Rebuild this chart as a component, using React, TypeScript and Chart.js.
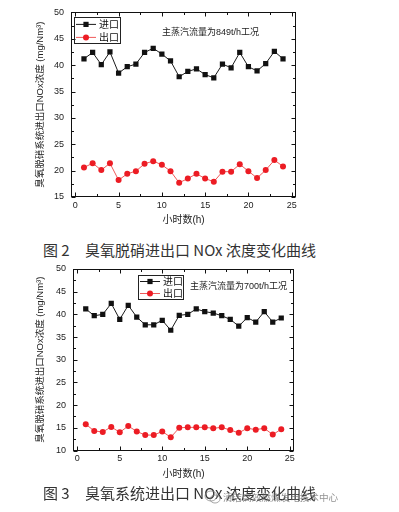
import React, { useEffect, useRef } from "react";
import { Chart, registerables } from "chart.js";

Chart.register(...registerables);

// ---------- data ----------
const hours = [1, 2, 3, 4, 5, 6, 7, 8, 9, 10, 11, 12, 13, 14, 15, 16, 17, 18, 19, 20, 21, 22, 23, 24];
const inlet849 = [41.2, 42.4, 40.1, 42.5, 38.5, 39.7, 40.2, 42.4, 43.2, 42.1, 40.8, 37.8, 38.8, 39.3, 38.2, 37.6, 40.2, 39.5, 42.4, 39.7, 38.9, 40.3, 42.6, 41.2];
const outlet849 = [20.6, 21.4, 20.1, 21.4, 18.2, 19.4, 19.9, 21.3, 21.8, 21.1, 19.9, 17.7, 18.5, 19.4, 18.5, 17.9, 19.8, 19.8, 21.2, 19.9, 18.6, 20.1, 22.0, 20.8];
const inlet700 = [41.2, 39.7, 40.0, 42.4, 38.9, 42.0, 39.4, 37.7, 37.7, 38.7, 36.5, 39.8, 40.0, 41.2, 40.6, 40.3, 39.7, 38.9, 37.4, 39.3, 38.3, 40.6, 38.3, 39.2];
const outlet700 = [15.8, 14.3, 14.1, 15.2, 14.0, 15.4, 14.2, 13.4, 13.4, 14.2, 12.9, 15.0, 15.1, 15.1, 15.1, 14.9, 15.1, 14.5, 13.9, 14.9, 14.6, 14.9, 13.5, 14.7];
const xTickValues = [0, 5, 10, 15, 20, 25];
const seriesLabels = ["进口", "出口"];
const yTitle = "臭氧脱硝系统进出口NOx浓度 (mg/Nm³)";
const xTitle = "小时数(h)";
const note849 = "主蒸汽流量为849t/h工况";
const note700 = "主蒸汽流量为700t/h工况";
const caption2Num = "图 2";
const caption2Text = "臭氧脱硝进出口 NOx 浓度变化曲线";
const caption3Num = "图 3";
const caption3Text = "臭氧系统进出口 NOx 浓度变化曲线";
const watermark = "清洁高效燃煤发电技术中心";

const FONT = "'Liberation Sans', 'Noto Sans CJK SC', sans-serif";
const CJK = "'Noto Sans CJK SC', sans-serif";

function drawMarker(ctx: CanvasRenderingContext2D, style: string, x: number, y: number, color: string) {
  ctx.fillStyle = color;
  if (style === "rect") {
    ctx.fillRect(x - 2.6, y - 2.6, 5.2, 5.2);
  } else {
    ctx.beginPath();
    ctx.arc(x, y, 3, 0, Math.PI * 2);
    ctx.fill();
  }
}

const framePlugin = {
  id: "frameTicks",
  beforeDatasetsDraw(chart: any) {
    const { ctx, chartArea: ca, scales } = chart;
    const xs = scales.x;
    const ys = scales.y;
    ctx.save();
    ctx.strokeStyle = "#111";
    ctx.lineWidth = 1;
    const L = Math.round(ca.left) + 0.5;
    const R = Math.round(ca.right) - 0.5;
    const T = Math.round(ca.top) + 0.5;
    const B = Math.round(ca.bottom) - 0.5;
    ctx.strokeRect(L, T, R - L, B - T);
    ctx.beginPath();
    // x ticks (major + minor), bottom and top, inward
    for (let v = 0; v <= 25; v += 2.5) {
      const px = Math.round(xs.getPixelForValue(v)) + 0.5;
      const len = v % 5 === 0 ? 4 : 2.5;
      ctx.moveTo(px, B);
      ctx.lineTo(px, B - len);
      ctx.moveTo(px, T);
      ctx.lineTo(px, T + len);
    }
    for (let v = ys.min; v <= ys.max; v += 2.5) {
      const py = Math.round(ys.getPixelForValue(v)) + 0.5;
      const len = v % 5 === 0 ? 4 : 2.5;
      ctx.moveTo(L, py);
      ctx.lineTo(L + len, py);
      ctx.moveTo(R, py);
      ctx.lineTo(R - len, py);
    }
    ctx.stroke();
    ctx.restore();
  },
  afterDraw(chart: any, _args: any, opts: any) {
    const { ctx, chartArea: ca } = chart;
    ctx.save();
    // legend box
    const bx = ca.left + opts.legend.dx;
    const by = ca.top + opts.legend.dy;
    const bw = opts.legend.w;
    const bh = opts.legend.h;
    ctx.strokeStyle = "#222";
    ctx.lineWidth = 1;
    ctx.strokeRect(Math.round(bx) + 0.5, Math.round(by) + 0.5, bw, bh);
    chart.data.datasets.forEach((ds: any, i: number) => {
      const ry = by + (i + 0.5) * (bh / 2) + 0.5;
      ctx.strokeStyle = ds.borderColor;
      ctx.lineWidth = 1;
      ctx.beginPath();
      ctx.moveTo(bx + 2, ry);
      ctx.lineTo(bx + 22, ry);
      ctx.stroke();
      drawMarker(ctx, ds.pointStyle, bx + 12, ry, ds.pointBackgroundColor);
      ctx.fillStyle = "#111";
      ctx.font = `10px ${CJK}`;
      ctx.textBaseline = "middle";
      ctx.textAlign = "left";
      ctx.fillText(ds.label, bx + 25, ry);
    });
    // note
    ctx.fillStyle = "#222";
    ctx.font = `9px ${FONT}`;
    ctx.textBaseline = "middle";
    ctx.textAlign = "left";
    ctx.fillText(opts.note.text, ca.left + opts.note.dx, ca.top + opts.note.dy);
    ctx.restore();
  },
};

type PanelProps = {
  top: number;
  width: number;
  height: number;
  padTop: number;
  padRight: number;
  yAxisWidth: number;
  xAxisHeight: number;
  yMin: number;
  yMax: number;
  inlet: number[];
  outlet: number[];
  note: string;
  noteDx: number;
  noteDy: number;
  legend: { dx: number; dy: number; w: number; h: number };
};

function ChartPanel(p: PanelProps) {
  const ref = useRef<HTMLCanvasElement>(null);
  useEffect(() => {
    const chart = new Chart(ref.current!, {
      type: "line",
      data: {
        datasets: [
          {
            label: seriesLabels[0],
            data: hours.map((h, i) => ({ x: h, y: p.inlet[i] })),
            borderColor: "#1a1a1a",
            borderWidth: 1,
            pointStyle: "rect",
            pointRadius: 3.7,
            pointBackgroundColor: "#111",
            pointBorderWidth: 0,
            pointBorderColor: "#111",
          } as any,
          {
            label: seriesLabels[1],
            data: hours.map((h, i) => ({ x: h, y: p.outlet[i] })),
            borderColor: "#f05a5a",
            borderWidth: 1,
            pointStyle: "circle",
            pointRadius: 3,
            pointBackgroundColor: "#ec1c24",
            pointBorderWidth: 0,
            pointBorderColor: "#ec1c24",
          } as any,
        ],
      },
      options: {
        responsive: false,
        animation: false,
        devicePixelRatio: 1,
        events: [],
        layout: { padding: { top: p.padTop, right: p.padRight, left: 0, bottom: 0 } },
        plugins: {
          legend: { display: false },
          tooltip: { enabled: false },
          frameTicks: {
            legend: p.legend,
            note: { text: p.note, dx: p.noteDx, dy: p.noteDy },
          },
        } as any,
        scales: {
          x: {
            type: "linear",
            min: -0.5,
            max: 25.5,
            afterBuildTicks: (s: any) => {
              s.ticks = xTickValues.map((v) => ({ value: v }));
            },
            afterFit: (s: any) => {
              s.height = p.xAxisHeight;
            },
            grid: { display: false, drawTicks: false },
            border: { display: false },
            ticks: {
              font: { size: 9, family: FONT },
              color: "#222",
              padding: 3,
              maxRotation: 0,
              autoSkip: false,
            },
            title: {
              display: true,
              text: xTitle,
              font: { size: 10, family: FONT },
              color: "#222",
              padding: { top: 0, bottom: 6 },
            },
          },
          y: {
            type: "linear",
            min: p.yMin,
            max: p.yMax,
            afterFit: (s: any) => {
              s.width = p.yAxisWidth;
            },
            grid: { display: false, drawTicks: false },
            border: { display: false },
            ticks: {
              stepSize: 5,
              font: { size: 9, family: FONT },
              color: "#222",
              padding: 7,
            },
            title: {
              display: true,
              text: yTitle,
              font: { size: 9.5, family: FONT },
              color: "#222",
              padding: { top: 35, bottom: 0 },
            },
          },
        },
      },
      plugins: [framePlugin as any],
    });
    return () => chart.destroy();
  }, []);
  return (
    <canvas
      ref={ref}
      width={p.width}
      height={p.height}
      style={{ position: "absolute", left: 0, top: p.top, width: p.width, height: p.height }}
    />
  );
}

const captionNumStyle: React.CSSProperties = {
  position: "absolute",
  left: 43,
  fontFamily: CJK,
  fontSize: 15,
  lineHeight: "20px",
  color: "#333",
  whiteSpace: "pre",
};

export default function App() {
  return (
    <div style={{ position: "absolute", left: 0, top: 0, width: 399, height: 512, background: "#fff", overflow: "hidden" }}>
      <ChartPanel
        top={0}
        width={320}
        height={232}
        padTop={12}
        padRight={24}
        yAxisWidth={71}
        xAxisHeight={35}
        yMin={15}
        yMax={50}
        inlet={inlet849}
        outlet={outlet849}
        note={note849}
        noteDx={91}
        noteDy={20}
        legend={{ dx: 3, dy: 5, w: 46, h: 26 }}
      />
      <div style={{ ...captionNumStyle, top: 240 }}>{caption2Num}</div>
      <div style={{ ...captionNumStyle, left: 85, top: 240 }}>{caption2Text}</div>
      <ChartPanel
        top={256}
        width={320}
        height={230}
        padTop={13}
        padRight={26}
        yAxisWidth={73}
        xAxisHeight={35.5}
        yMin={10}
        yMax={50}
        inlet={inlet700}
        outlet={outlet700}
        note={note700}
        noteDx={117}
        noteDy={18}
        legend={{ dx: 65, dy: 6, w: 45, h: 24 }}
      />
      <div style={{ ...captionNumStyle, top: 483 }}>{caption3Num}</div>
      <div style={{ ...captionNumStyle, left: 85, top: 483 }}>{caption3Text}</div>
      <svg style={{ position: "absolute", left: 204, top: 489 }} width={18} height={16}>
        <ellipse cx={7} cy={7} rx={6} ry={5} fill="none" stroke="rgba(130,130,130,0.7)" strokeWidth={1} />
        <ellipse cx={11} cy={10} rx={5} ry={4} fill="none" stroke="rgba(130,130,130,0.7)" strokeWidth={1} />
      </svg>
      <div
        style={{
          position: "absolute",
          left: 223,
          top: 490,
          fontFamily: CJK,
          fontSize: 9.6,
          lineHeight: "14px",
          color: "rgba(110,110,110,0.75)",
          whiteSpace: "pre",
        }}
      >
        {watermark}
      </div>
    </div>
  );
}
